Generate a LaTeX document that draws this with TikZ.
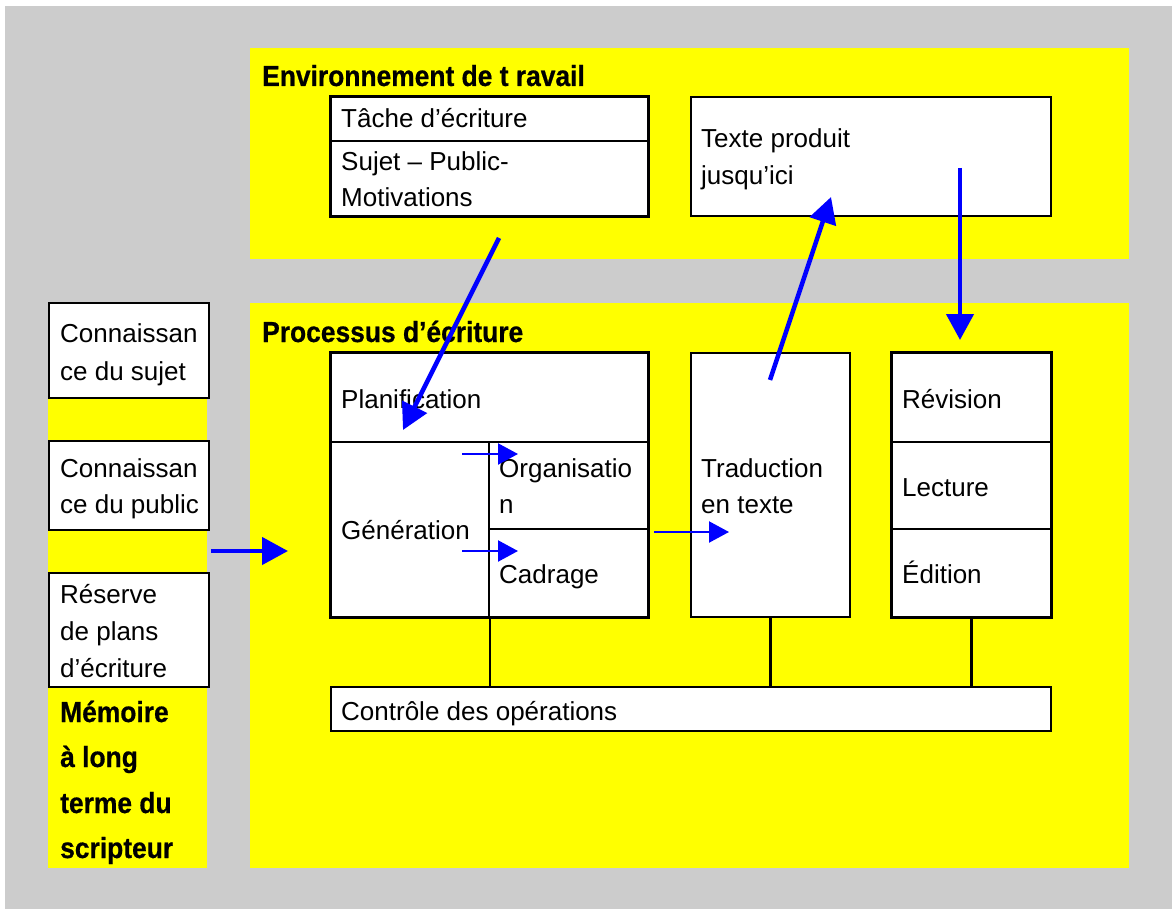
\documentclass[tikz,border=0pt]{standalone}
\usepackage{fontspec}
\setmainfont{Liberation Sans}
\newfontfamily\headfont{Liberation Sans}[FakeStretch=0.91, FakeBold=0.6]
\usetikzlibrary{arrows.meta,fit}

\definecolor{pagegray}{HTML}{CCCCCC}
\definecolor{panelyellow}{HTML}{FFFF00}
\definecolor{arrowblue}{HTML}{0000FF}

\begin{document}
\begin{tikzpicture}[x=1pt, y=-1pt,
  panel/.style={fill=panelyellow, draw=none, inner sep=0pt},
  cellbox/.style={draw=black, line width=1.4pt, fill=white, inner sep=0pt},
  frame/.style={draw=black, line width=2.1pt},
  link/.style={draw=black, line width=2.1pt},
  lbl/.style={anchor=base west, inner sep=0pt, font=\fontsize{26}{37}\selectfont},
  head/.style={anchor=base west, inner sep=0pt, font=\headfont\bfseries\fontsize{29}{40}\selectfont},
  bigarrow/.style={draw=arrowblue, line width=4.5pt, -{Triangle[length=26pt,width=27pt]}},
  smallarrow/.style={draw=arrowblue, line width=2.2pt, -{Triangle[length=20pt,width=21pt]}}
]
\useasboundingbox (0,0) rectangle (1172,909);
\fill[pagegray] (5,6) rectangle (1172,909);

% yellow panels
\node[panel, fit={(250,48) (1129,259)}] (envpanel) {};
\node[panel, fit={(250,303) (1129,868)}] (procpanel) {};
\node[panel, fit={(48,303) (207,868)}] (mempanel) {};

% working environment
\node[cellbox, fit={(331,97) (648,141)}] (tache) {};
\node[cellbox, fit={(331,141) (648,216)}] (sujet) {};
\draw[frame] (tache.north west) rectangle (sujet.south east);
\node[cellbox, line width=2.1pt, fit={(691,97) (1051,216)}] (texte) {};

% long-term memory
\node[cellbox, line width=2.1pt, fit={(49,303) (209,398)}] (csujet) {};
\node[cellbox, line width=2.1pt, fit={(49,441) (209,530)}] (cpublic) {};
\node[cellbox, line width=2.1pt, fit={(49,573) (209,687)}] (rplans) {};

% writing process
\node[cellbox, fit={(331,353) (648,442)}] (plan) {};
\node[cellbox, fit={(331,442) (489,617)}] (gen) {};
\node[cellbox, fit={(489,442) (648,529)}] (org) {};
\node[cellbox, fit={(489,529) (648,617)}] (cad) {};
\draw[frame] (plan.north west) rectangle (cad.south east);
\node[cellbox, line width=2.1pt, fit={(691,353) (850,617)}] (trad) {};
\node[cellbox, fit={(892,353) (1051,442)}] (rev) {};
\node[cellbox, fit={(892,442) (1051,529)}] (lect) {};
\node[cellbox, fit={(892,529) (1051,617)}] (edit) {};
\draw[frame] (rev.north west) rectangle (edit.south east);
\node[cellbox, line width=2.1pt, fit={(331,687) (1051,731)}] (ctrl) {};

% links to the control box
\draw[link] (gen.south east) -- (gen.south east |- ctrl.north);
\draw[link] (trad.south) -- (trad.south |- ctrl.north);
\draw[link] (edit.south) -- (edit.south |- ctrl.north);

% texts
\node[head] (henv) at (262,86) {Environnement de t ravail};
\node[lbl] (ttache) at (341,128) {Tâche d’écriture};
\node[lbl] (tsujet1) at (341,171) {Sujet – Public-};
\node[lbl] (tsujet2) at (341,207) {Motivations};
\node[lbl] (ttexte1) at (701,148) {Texte produit};
\node[lbl] (ttexte2) at (701,185) {jusqu’ici};

\node[head] (hproc) at (262,342) {Processus d’écriture};
\node[lbl] (tcs1) at (60,342) {Connaissan};
\node[lbl] (tcs2) at (60,380) {ce du sujet};
\node[lbl] (tcp1) at (60,477) {Connaissan};
\node[lbl] (tcp2) at (60,513) {ce du public};
\node[lbl] (trp1) at (60,603) {Réserve};
\node[lbl] (trp2) at (60,640) {de plans};
\node[lbl] (trp3) at (60,677) {d’écriture};
\node[head] (hmem1) at (60,722) {Mémoire};
\node[head] (hmem2) at (60,767) {à long};
\node[head] (hmem3) at (60,813) {terme du};
\node[head] (hmem4) at (60,858) {scripteur};

\node[lbl] (tplan) at (341,408) {Planification};
\node[lbl] (torg1) at (499,477) {Organisatio};
\node[lbl] (torg2) at (499,513) {n};
\node[lbl] (tgen) at (341,539) {Génération};
\node[lbl] (tcad) at (499,583) {Cadrage};
\node[lbl] (ttrad1) at (701,477) {Traduction};
\node[lbl] (ttrad2) at (701,513) {en texte};
\node[lbl] (trev) at (902,408) {Révision};
\node[lbl] (tlect) at (902,496) {Lecture};
\node[lbl] (tedit) at (902,583) {Édition};
\node[lbl] (tctrl) at (341,720) {Contrôle des opérations};

% arrow end points
\coordinate (memout) at (211,551);
\coordinate (procin) at (288,551);
\coordinate (sujetout) at (499,238);
\coordinate (planin) at (403,430);
\coordinate (tradout) at (770,380);
\coordinate (textein) at (831,197);
\coordinate (texteout) at (960,168);
\coordinate (revin) at (960,340);
\coordinate (genout1) at (462,454);
\coordinate (orgin) at (518,454);
\coordinate (genout2) at (462,551);
\coordinate (cadin) at (518,551);
\coordinate (cadout) at (654,532);
\coordinate (tradin) at (729,532);

% arrows
\draw[bigarrow] (memout) -- (procin);
\draw[bigarrow] (sujetout) -- (planin);
\draw[bigarrow] (tradout) -- (textein);
\draw[bigarrow] (texteout) -- (revin);
\draw[smallarrow] (genout1) -- (orgin);
\draw[smallarrow] (genout2) -- (cadin);
\draw[smallarrow] (cadout) -- (tradin);
\end{tikzpicture}
\end{document}
